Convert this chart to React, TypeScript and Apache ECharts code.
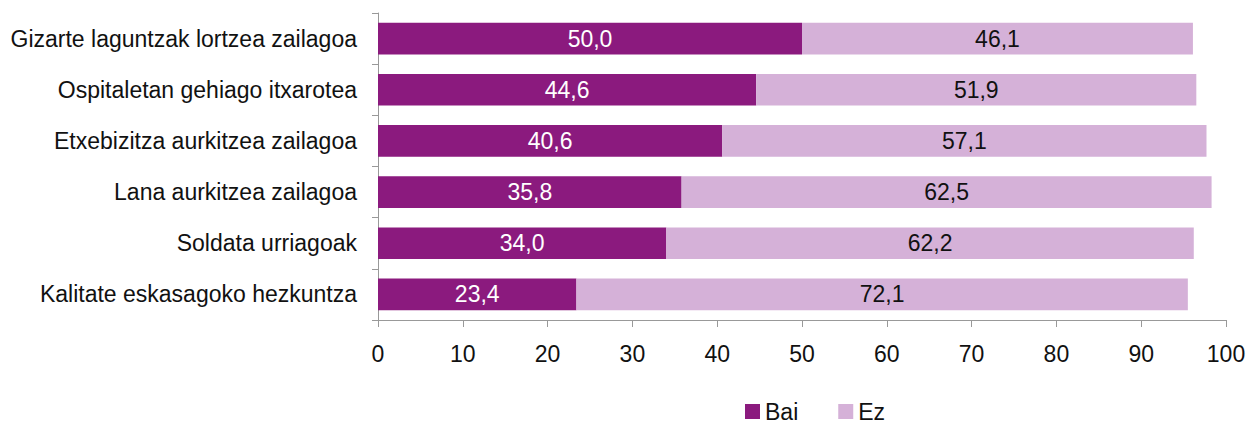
import React, { useEffect, useRef } from "react";
import * as echarts from "echarts";

const categories = [
  "Gizarte laguntzak lortzea zailagoa",
  "Ospitaletan gehiago itxarotea",
  "Etxebizitza aurkitzea zailagoa",
  "Lana aurkitzea zailagoa",
  "Soldata urriagoak",
  "Kalitate eskasagoko hezkuntza",
];
const baiValues = [50.0, 44.6, 40.6, 35.8, 34.0, 23.4];
const ezValues = [46.1, 51.9, 57.1, 62.5, 62.2, 72.1];
const seriesNames = ["Bai", "Ez"];

const FONT = "Liberation Sans";
const FS = 23;
const fmt = (v: number) => v.toFixed(1).replace(".", ",");

export default function App() {
  const ref = useRef<HTMLDivElement>(null);
  useEffect(() => {
    document.body.style.margin = "0";
    const chart = echarts.init(ref.current!, null, { renderer: "svg" });
    chart.setOption({
      animation: false,
      textStyle: { fontFamily: FONT },
      grid: { left: 378, right: 26, top: 13, bottom: 108, containLabel: false },
      legend: {
        bottom: 0,
        left: 740,
        itemWidth: 15,
        itemHeight: 15,
        itemGap: 40,
        icon: "rect",
        textStyle: { fontFamily: FONT, fontSize: FS, color: "#111" },
        data: seriesNames,
      },
      xAxis: {
        type: "value",
        min: 0,
        max: 100,
        interval: 10,
        splitLine: { show: false },
        axisLine: { show: true, lineStyle: { color: "#999" } },
        axisTick: { show: true, length: 7, lineStyle: { color: "#999" } },
        axisLabel: { fontSize: FS, color: "#111", margin: 22, fontFamily: FONT },
      },
      yAxis: {
        type: "category",
        inverse: true,
        data: categories,
        axisLine: { show: true, lineStyle: { color: "#999" } },
        axisTick: { show: true, length: 6, lineStyle: { color: "#999" } },
        axisLabel: { fontSize: FS, color: "#111", margin: 21, fontFamily: FONT },
      },
      series: [
        {
          name: seriesNames[0],
          type: "bar",
          stack: "t",
          data: baiValues,
          barCategoryGap: "38%",
          itemStyle: { color: "#8B1A7E" },
          label: {
            show: true,
            position: "inside",
            color: "#fff",
            fontSize: FS,
            fontFamily: FONT,
            formatter: (p: any) => fmt(p.value),
          },
        },
        {
          name: seriesNames[1],
          type: "bar",
          stack: "t",
          data: ezValues,
          barCategoryGap: "38%",
          itemStyle: { color: "#D5B1D8" },
          label: {
            show: true,
            position: "inside",
            color: "#111",
            fontSize: FS,
            fontFamily: FONT,
            formatter: (p: any) => fmt(p.value),
          },
        },
      ],
    });
    return () => chart.dispose();
  }, []);
  return <div ref={ref} style={{ width: 1252, height: 428 }} />;
}
